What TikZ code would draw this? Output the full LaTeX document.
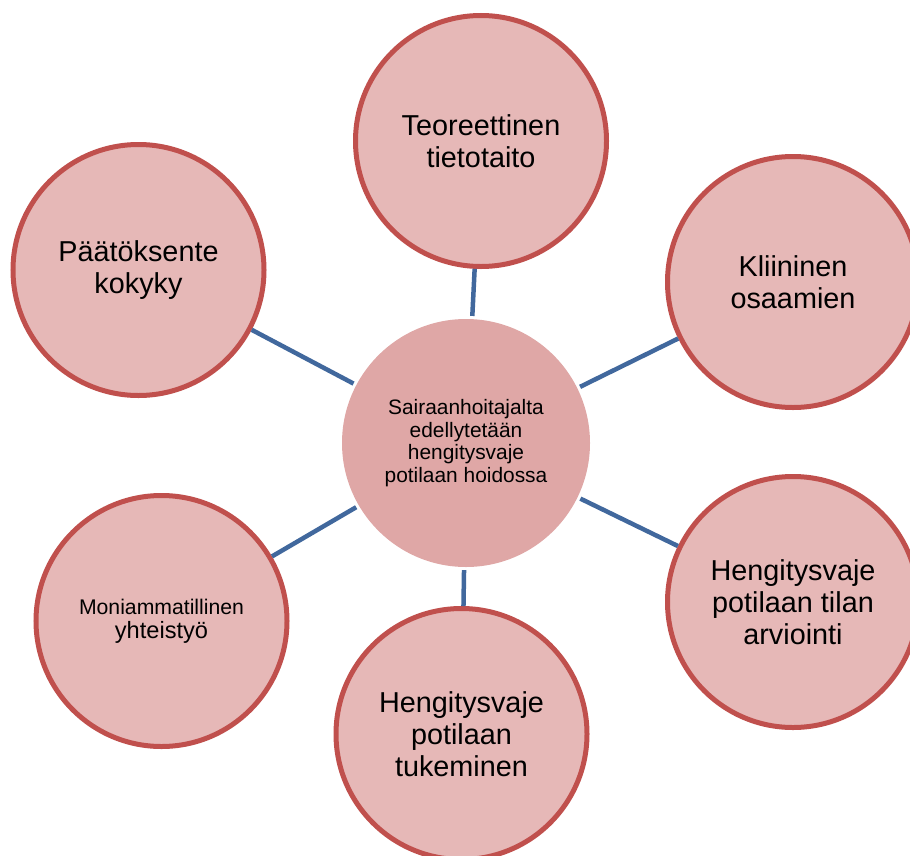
\documentclass[tikz,border=0pt]{standalone}
\usepackage{fontspec}
\setmainfont{Liberation Sans}
\definecolor{fillc}{HTML}{E6B8B7}
\definecolor{edgec}{HTML}{C0504D}
\definecolor{hubc}{HTML}{DFA7A6}
\definecolor{linkc}{HTML}{41689D}
\begin{document}
\begin{tikzpicture}[x=1bp,y=-1bp,
  outer/.style={circle, draw=edgec, fill=fillc, line width=5bp, minimum size=251bp, inner sep=0pt, align=center, font=\fontsize{28.8bp}{32bp}\selectfont},
  hub/.style={circle, fill=hubc, minimum size=248bp, inner sep=0pt, align=center, font=\fontsize{20.9bp}{22.7bp}\selectfont},
  link/.style={draw=linkc, line width=4.5bp, shorten <=3bp}]
\useasboundingbox (0,0) rectangle (910,856);
\node[hub] (c) at (466,443) {Sairaanhoitajalta\\edellytetään\\hengitysvaje\\potilaan hoidossa};
\node[outer] (t) at (481,141) {Teoreettinen\\tietotaito};
\node[outer] (tr) at (793,282) {Kliininen\\osaamien};
\node[outer] (br) at (793,602) {Hengitysvaje\\potilaan tilan\\arviointi};
\node[outer] (b) at (461.5,734) {Hengitysvaje\\potilaan\\tukeminen};
\node[outer, font=\fontsize{21.2bp}{24bp}\selectfont] (bl) at (161.5,621) {Moniammatillinen\\{\fontsize{23.6bp}{24bp}\selectfont yhteistyö}};
\node[outer] (tl) at (138.5,270) {Päätöksente\\kokyky};
\foreach \n in {t,tr,br,b,bl,tl} {\draw[link] (c) -- (\n);}
\end{tikzpicture}
\end{document}
